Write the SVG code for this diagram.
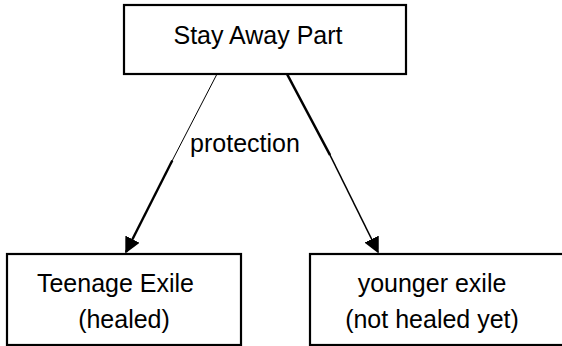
<svg xmlns="http://www.w3.org/2000/svg" width="562" height="346" viewBox="0 0 562 346">
<defs>
<style>
.box{fill:#fff;stroke:#000;stroke-width:2.2}
.t{font-family:"Liberation Sans",Arial,sans-serif;font-size:25px;fill:#000;text-anchor:middle}
.c{stroke:#000;fill:none;stroke-linecap:butt}
</style>
<marker id="ah" viewBox="0 0 10 10" refX="9" refY="5" markerWidth="16" markerHeight="16" markerUnits="userSpaceOnUse" orient="auto">
<path d="M0,0 L10,5 L0,10 z" fill="#000"/>
</marker>
</defs>
<g id="connectors">
<path class="c" d="M217,74 L172,161" stroke-width="1"/>
<path class="c" d="M172.3,160.5 L126,252" stroke-width="2.4" marker-end="url(#ah)"/>
<path class="c" d="M287,74 L330,155" stroke-width="2.6"/>
<path class="c" d="M329.5,154 L378,252" stroke-width="1.6" marker-end="url(#ah)"/>
<text class="t" x="245" y="152">protection</text>
</g>
<g id="stay-away-part">
<rect class="box" x="124" y="5" width="282" height="69"/>
<text class="t" x="258" y="44">Stay Away Part</text>
</g>
<g id="teenage-exile">
<rect class="box" x="7" y="254" width="234" height="91"/>
<text class="t" x="115.5" y="292">Teenage Exile</text>
<text class="t" x="124" y="328">(healed)</text>
</g>
<g id="younger-exile">
<rect class="box" x="310" y="254" width="262" height="91"/>
<text class="t" x="432" y="292">younger exile</text>
<text class="t" x="432" y="328">(not healed yet)</text>
</g>
</svg>
